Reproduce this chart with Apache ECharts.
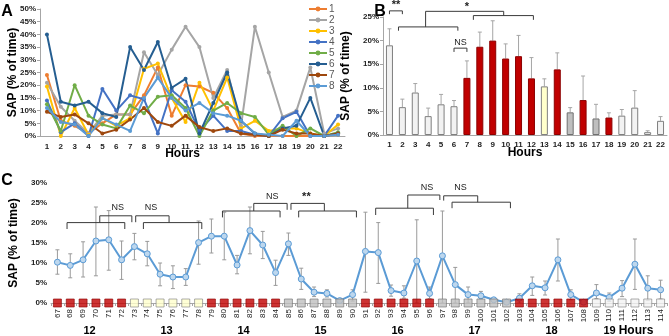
<!DOCTYPE html>
<html>
<head>
<meta charset="utf-8">
<script src="https://cdn.jsdelivr.net/npm/echarts@6/dist/echarts.min.js"></script>
<style>
  html, body { margin: 0; padding: 0; background: #fff; }
  #main { width: 669px; height: 336px; }
</style>
</head>
<body>
<div id="main"></div>
<script>
// ---- panel A: SAP per hour for 8 animals ----
var hoursA = ['1','2','3','4','5','6','7','8','9','10','11','12','13','14','15','16','17','18','19','20','21','22']
var namesA = ['1','2','3','4','5','6','7','8']
var sap1 = [24, 6, 4, 1, 5, 8.5, 8.5, 16, 27, 8, 20, 19.5, 17, 11, 1, 0, 0, 0, 0, 0, 0, 0.5]
var sap2 = [21, 11.5, 6, 1, 8, 8.5, 8.5, 33, 24, 34, 43, 35, 15, 26, 4, 43, 25, 7.5, 10, 27, 1, 3]
var sap3 = [19.5, 0, 11, 0.5, 7, 4, 7, 26.5, 28.5, 15, 5.5, 21, 10, 23, 3, 6, 2, 3, 3, 1, 0, 4.5]
var sap4 = [14, 1.5, 5, 0, 18.5, 10, 16, 14.5, 1, 18, 13.5, 2, 8, 2, 2, 0.5, 0, 7, 9.5, 0, 0, 8]
var sap5 = [12.5, 2, 20, 8, 4.5, 3, 12, 9, 15.5, 16, 11, 0, 10, 13, 9, 7.5, 0.5, 4, 0, 3, 0, 1.5]
var sap6 = [40, 13.5, 12, 13.5, 9, 7.5, 35, 26, 37, 19, 22.5, 1, 13, 25, 6, 1, 0, 3, 4, 15, 0, 1]
var sap7 = [9.5, 7.5, 8.5, 5, 1, 2.5, 6.5, 11, 5.5, 4, 8, 3.5, 2, 3, 1, 0.5, 0, 2.5, 1, 1, 0, 1]
var sap8 = [11, 5.5, 4.5, 0, 7, 4.5, 2, 15, 23, 15, 10, 13, 9, 8, 6, 1, 0.5, 0, 6, 0, 0, 0.5]
var colorsA = ['#ed7d31', '#a5a5a5', '#ffc000', '#4472c4', '#70ad47', '#255e91', '#9e480e', '#5b9bd5']

// ---- panel B: mean SAP per hour ----
var hoursB = hoursA
var meanB = [19, 5.9, 9, 4, 6.5, 6.1, 12.1, 18.7, 20, 16.2, 16.7, 12, 10.3, 13.9, 4.8, 7.4, 3.5, 3.7, 4.1, 5.8, 0.6, 3]
var errTopB = [22.5, 7.6, 10.9, 5.7, 8.6, 7.3, 15.7, 21.8, 24.2, 19.3, 21.1, 16.4, 11.9, 17.4, 5.8, 12.5, 6.5, 4.7, 5.4, 9.4, 0.9, 3.9]
var typeB = ['light','light','light','light','light','light','red','red','red','red','red','red',
             'yellow','red','gray','red','gray','red','light','light','light','light']

// ---- panel C: SAP per 10-min period ----
var periodsC = []
for (var p = 67; p <= 114; p++) periodsC.push(String(p))
var meanC = [10.2, 9.4, 10.8, 15.5, 15.8, 10.8, 14.1, 12.3, 7.2, 6.5, 6.5, 15.1,
             16.7, 16.7, 9.5, 18.1, 14.5, 7.6, 14.8, 6, 2.7, 2.4, 0.6, 2.1,
             12.9, 12.6, 3.1, 2.5, 10.5, 2.4, 11.8, 4.6, 2.1, 1.8, 0.8, 0.2,
             1.2, 4.3, 3.8, 10.8, 2.1, 0.2, 2.5, 1.4, 3.7, 9.7, 3.7, 3.3]
var lowC = [7.2, 6.3, 6.5, 6.8, 8.2, 5.9, 10.8, 9.3, 4.3, 3.6, 4.4, 9.7,
            12.5, 10.8, 7.3, 12.3, 11.1, 4.4, 11.9, 3.4, 1.6, 1.5, 0.2, 0.5,
            2.7, 4.9, 1.7, 1.2, 0, 1.1, 0, 0, 0, 1, 0.4, 0,
            0, 1.9, 2, 5.5, 0.8, 0, 1.1, 0.4, 1.6, 3.4, 0.6, 1]
var highC = [13.3, 12.3, 15.3, 24, 23.1, 15.5, 17.4, 15.4, 10, 9.3, 8.6, 20.5,
             21, 22.7, 11.9, 24, 17.9, 10.7, 17.5, 8.7, 4, 3.3, 1, 3.3,
             22.7, 20.1, 4.5, 4.3, 20.8, 4, 23, 8.9, 4, 2.9, 1.2, 0.4,
             2.3, 6.5, 5.5, 16, 3.3, 0.4, 4.6, 2.5, 5.6, 16, 6.8, 5.7]
var groupHoursC = ['12', '13', '14', '15', '16', '17', '18', '19']
var groupTypeC = ['red', 'yellow', 'red', 'gray', 'red', 'gray', 'red', 'light']

var fillOf = { light: '#f2f2f2', red: '#c00000', yellow: '#ffffcc', gray: '#bfbfbf' }
var borderOf = { light: '#7f7f7f', red: '#8c0000', yellow: '#7f7f7f', gray: '#6f6f6f' }

var FONT = 'Liberation Sans'
var chart = echarts.init(document.getElementById('main'))

function valueAxis (grid, max, name, gap, showLine) {
  return {
    gridIndex: grid, type: 'value', min: 0, max: max, interval: 5,
    name: name, nameLocation: 'middle', nameGap: gap, nameMoveOverlap: false,
    nameTextStyle: { fontFamily: FONT, fontSize: 12, fontWeight: 'bold', color: '#000' },
    axisLine: { show: showLine, lineStyle: { color: '#a6a6a6' } },
    axisTick: { show: showLine, length: 3, lineStyle: { color: '#a6a6a6' } },
    splitLine: { show: false },
    axisLabel: { formatter: '{value}%', fontFamily: FONT, fontSize: 8, fontWeight: 'bold', color: '#222', margin: 4 }
  }
}

var seriesA = [sap1, sap2, sap3, sap4, sap5, sap6, sap7, sap8].map(function (d, i) {
  return {
    name: namesA[i], type: 'line', xAxisIndex: 0, yAxisIndex: 0, data: d,
    symbol: 'circle', symbolSize: 4, color: colorsA[i],
    lineStyle: { width: 2, color: colorsA[i] }, itemStyle: { color: colorsA[i] }
  }
})

var squaresC = periodsC.map(function (p, i) {
  var t = groupTypeC[Math.floor(i / 6)]
  return { value: [i, 0], itemStyle: { color: fillOf[t], borderColor: borderOf[t], borderWidth: 0.8 } }
})

var option = {
  animation: false,
  textStyle: { fontFamily: FONT },
  legend: {
    data: namesA, orient: 'vertical', left: 303, top: -1,
    itemWidth: 18, itemHeight: 6, itemGap: 1,
    textStyle: { fontFamily: FONT, fontSize: 10, lineHeight: 9, color: '#595959', padding: [0, 0, 0, -3] }
  },
  grid: [
    { left: 40, top: 9, width: 305, height: 127 },
    { left: 383, top: 17, width: 284, height: 118 },
    { left: 50, top: 183, width: 617, height: 120 }
  ],
  xAxis: [
    {
      gridIndex: 0, type: 'category', data: hoursA,
      name: 'Hours', nameLocation: 'middle', nameGap: 12, nameMoveOverlap: false,
      nameTextStyle: { fontFamily: FONT, fontSize: 12, fontWeight: 'bold', color: '#000', padding: [0, 20, 0, 0] },
      axisLine: { lineStyle: { color: '#a6a6a6' } }, axisTick: { show: false },
      axisLabel: { interval: 0, fontFamily: FONT, fontSize: 8, fontWeight: 'bold', color: '#222', margin: 7 }
    },
    {
      gridIndex: 1, type: 'category', data: hoursB,
      name: 'Hours', nameLocation: 'middle', nameGap: 12, nameMoveOverlap: false,
      nameTextStyle: { fontFamily: FONT, fontSize: 12, fontWeight: 'bold', color: '#000' },
      axisLine: { lineStyle: { color: '#a6a6a6' } }, axisTick: { show: false },
      axisLabel: { interval: 0, fontFamily: FONT, fontSize: 8, fontWeight: 'bold', color: '#222', margin: 6 }
    },
    {
      gridIndex: 2, type: 'category', data: periodsC,
      axisLine: { lineStyle: { color: '#a6a6a6' } },
      axisTick: { show: true, length: 3, lineStyle: { color: '#a6a6a6' } },
      axisLabel: { interval: 0, rotate: 90, fontFamily: FONT, fontSize: 8, color: '#222', margin: 6 }
    }
  ],
  yAxis: [
    valueAxis(0, 50, 'SAP (% of time)', 21, true),
    valueAxis(1, 25, 'SAP (% of time)', 31, true),
    valueAxis(2, 30, 'SAP (% of time)', 31, false)
  ],
  series: seriesA.concat([
    {
      type: 'bar', xAxisIndex: 1, yAxisIndex: 1, barWidth: 7,
      data: meanB.map(function (v, i) {
        return { value: v, itemStyle: { color: fillOf[typeB[i]], borderColor: borderOf[typeB[i]], borderWidth: 1 } }
      })
    },
    {
      type: 'custom', xAxisIndex: 1, yAxisIndex: 1, z: 1,
      data: meanB.map(function (v, i) { return [i, v, errTopB[i]] }),
      renderItem: function (params, api) {
        var a = api.coord([api.value(0), api.value(1)])
        var b = api.coord([api.value(0), api.value(2)])
        var st = { stroke: '#a6a6a6', lineWidth: 1 }
        return { type: 'group', children: [
          { type: 'line', shape: { x1: a[0], y1: a[1], x2: b[0], y2: b[1] }, style: st },
          { type: 'line', shape: { x1: b[0] - 2, y1: b[1], x2: b[0] + 2, y2: b[1] }, style: st }
        ] }
      }
    },
    {
      type: 'custom', xAxisIndex: 2, yAxisIndex: 2, z: 1,
      data: meanC.map(function (v, i) { return [i, lowC[i], highC[i]] }),
      renderItem: function (params, api) {
        var a = api.coord([api.value(0), api.value(1)])
        var b = api.coord([api.value(0), api.value(2)])
        var st = { stroke: '#9a9a9a', lineWidth: 1 }
        return { type: 'group', children: [
          { type: 'line', shape: { x1: a[0], y1: a[1], x2: b[0], y2: b[1] }, style: st },
          { type: 'line', shape: { x1: a[0] - 2, y1: a[1], x2: a[0] + 2, y2: a[1] }, style: st },
          { type: 'line', shape: { x1: b[0] - 2, y1: b[1], x2: b[0] + 2, y2: b[1] }, style: st }
        ] }
      }
    },
    {
      type: 'line', xAxisIndex: 2, yAxisIndex: 2, z: 3, data: meanC,
      symbol: 'circle', symbolSize: 6,
      lineStyle: { color: '#5b9bd5', width: 2 },
      itemStyle: { color: '#bdd7ee', borderColor: '#5b9bd5', borderWidth: 1 }
    },
    {
      type: 'scatter', xAxisIndex: 2, yAxisIndex: 2, z: 5, symbol: 'rect', symbolSize: 8,
      data: squaresC, clip: false
    }
  ])
}
chart.setOption(option)

// ---- significance brackets, anchored in data coordinates ----
// B: [hour, value %]
var bracketsB = [
  [[1, 25.6], [1, 26.3], [2, 26.3], [2, 25.6]],
  [[1.7, 22.1], [1.7, 22.9], [6.3, 22.9], [6.3, 22.1]],
  [[3.8, 22.9], [3.8, 26.2], [9.85, 26.2], [9.85, 25.3]],
  [[7.5, 24.4], [7.5, 25.3], [12.15, 25.3], [12.15, 24.4]],
  [[6, 17.6], [6, 18.4], [7, 18.4], [7, 17.6]]
]
var textsB = [['**', 1.5, 27.6, true], ['*', 7, 27.2, true], ['NS', 6.5, 19.5, false]]
// C: [period, value %]
var bracketsC = [
  [[67.75, 18.5], [67.75, 20.1], [72.25, 20.1], [72.25, 18.5]],
  [[70.3, 20.1], [70.3, 21.8], [72.8, 21.8], [72.8, 20.2]],
  [[73.1, 20.2], [73.1, 21.8], [75.7, 21.8], [75.7, 20.1]],
  [[73.7, 18.5], [73.7, 20.1], [78.25, 20.1], [78.25, 18.5]],
  [[79.86, 21.4], [79.86, 23], [84.35, 23], [84.35, 21.4]],
  [[82.3, 23], [82.3, 24.9], [84.9, 24.9], [84.9, 23.3]],
  [[85.2, 23.3], [85.2, 24.9], [87.8, 24.9], [87.8, 23]],
  [[85.8, 21.4], [85.8, 23], [90.3, 23], [90.3, 21.4]],
  [[91.8, 22], [91.8, 23.7], [96.3, 23.7], [96.3, 22]],
  [[94.3, 23.7], [94.3, 27], [96.8, 27], [96.8, 25.75]],
  [[97.1, 25.6], [97.1, 26.8], [99.75, 26.8], [99.75, 25.2]],
  [[97.75, 23.7], [97.75, 25.2], [102.3, 25.2], [102.3, 23.7]]
]
var textsC = [['NS', 71.7, 23.8, false], ['NS', 74.3, 23.8, false], ['NS', 83.75, 26.5, false],
              ['**', 86.4, 26.4, true], ['NS', 95.8, 28.8, false], ['NS', 98.4, 28.8, false]]

function mapper (gi, first) {
  var p0 = chart.convertToPixel({ xAxisIndex: gi, yAxisIndex: gi }, [0, 0])
  var p1 = chart.convertToPixel({ xAxisIndex: gi, yAxisIndex: gi }, [1, 10])
  var dx = p1[0] - p0[0]
  var dy = (p1[1] - p0[1]) / 10
  return function (n, v) { return [p0[0] + (n - first) * dx, p0[1] + v * dy] }
}
var toB = mapper(1, 1)
var toC = mapper(2, 67)

var graphics = []
function addBrackets (list, to) {
  list.forEach(function (pts) {
    graphics.push({ type: 'polyline', shape: { points: pts.map(function (q) { return to(q[0], q[1]) }) },
      style: { stroke: '#3a3a3a', lineWidth: 1, fill: null }, z: 10 })
  })
}
function addTexts (list, to) {
  list.forEach(function (t) {
    var q = to(t[1], t[2])
    graphics.push({ type: 'text', x: q[0], y: q[1], z: 10,
      style: { text: t[0], fontFamily: FONT, fontSize: t[3] ? 11 : 9, fontWeight: t[3] ? 'bold' : 'normal',
        fill: '#222', align: 'center', verticalAlign: 'middle' } })
  })
}
addBrackets(bracketsB, toB); addTexts(textsB, toB)
addBrackets(bracketsC, toC); addTexts(textsC, toC)

// hour group labels under panel C
var yAxisC = chart.convertToPixel({ yAxisIndex: 2 }, 0)
groupHoursC.forEach(function (h, g) {
  var q = toC(67 + g * 6 + 2.5, 0)
  var x = g === groupHoursC.length - 1 ? q[0] - 19 : q[0]
  graphics.push({ type: 'text', x: x, y: yAxisC + 28, style: { text: h, fontFamily: FONT, fontSize: 11,
    fontWeight: 'bold', fill: '#000', align: 'center', verticalAlign: 'middle' } })
})
graphics.push({ type: 'text', x: 636, y: yAxisC + 28, style: { text: 'Hours', fontFamily: FONT, fontSize: 12,
  fontWeight: 'bold', fill: '#000', align: 'center', verticalAlign: 'middle' } })

// panel letters
;[['A', 7, 12], ['B', 380, 12], ['C', 7, 181]].forEach(function (l) {
  graphics.push({ type: 'text', x: l[1], y: l[2], style: { text: l[0], fontFamily: FONT, fontSize: 16,
    fontWeight: 'bold', fill: '#000', align: 'center', verticalAlign: 'middle' } })
})

chart.setOption({ graphic: graphics })
</script>
</body>
</html>
